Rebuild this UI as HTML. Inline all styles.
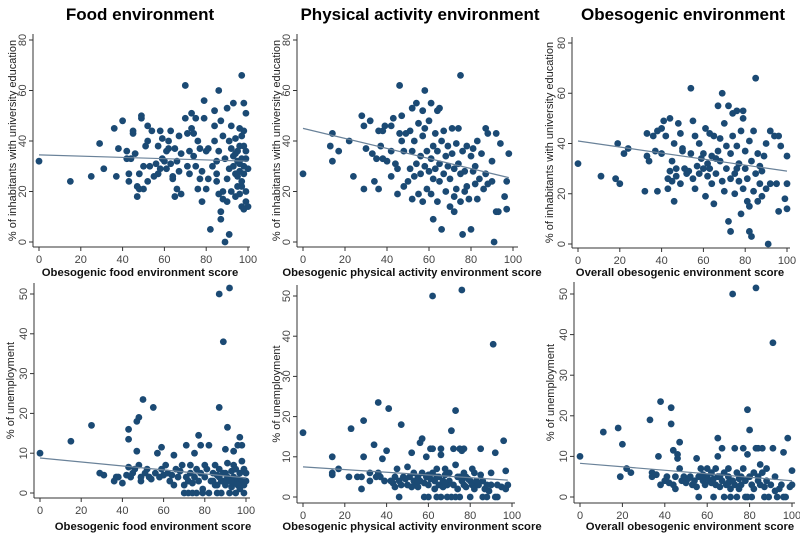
<!DOCTYPE html>
<html><head><meta charset="utf-8"><style>
html,body{margin:0;padding:0;background:#fff;}
svg{display:block;font-family:"Liberation Sans",Arial,sans-serif;}
</style></head><body>
<svg id="chart" width="800" height="534" viewBox="0 0 800 534">
<text x="140" y="20" text-anchor="middle" font-size="17" font-weight="bold">Food environment</text>
<text x="420" y="20" text-anchor="middle" font-size="17" font-weight="bold">Physical activity environment</text>
<text x="683" y="20" text-anchor="middle" font-size="17" font-weight="bold">Obesogenic environment</text>
</svg>
<script>
const foodEdu=[[0,32],[15,24],[25,26],[29,39],[31,29],[36,45],[37,26],[38,37],[40,48],[42,33],[42,36],[43,27],[43,24],[44,33],[45,44],[45,43],[46,35],[47,22],[47,18],[48,21],[48,27],[49,50],[49,49],[50,21],[50,30],[51,38],[52,40],[52,46],[52,24],[53,30],[54,44],[55,26],[56,31],[57,38],[57,27],[58,44],[58,29],[59,41],[59,33],[60,32],[61,36],[61,29],[62,40],[62,37],[63,44],[63,31],[64,25],[64,26],[65,37],[65,18],[66,21],[66,32],[67,42],[67,28],[68,19],[68,35],[70,49],[70,62],[71,43],[71,30],[72,36],[72,27],[73,51],[73,45],[74,34],[74,43],[75,49],[75,30],[76,21],[76,40],[77,37],[77,25],[78,16],[78,28],[79,49],[79,56],[80,36],[80,21],[81,37],[81,25],[82,5],[83,30],[84,46],[84,52],[84,40],[85,27],[85,32],[85,24],[86,60],[86,19],[86,36],[87,48],[87,12],[87,9],[88,42],[88,20],[88,17],[89,0],[89,33],[90,53],[90,25],[90,16],[91,40],[91,3],[91,29],[92,37],[92,20],[92,46],[93,30],[93,55],[93,34],[94,18],[94,27],[94,41],[95,32],[95,22],[95,36],[96,45],[96,28],[96,19],[96,38],[97,66],[97,24],[97,14],[97,33],[97,42],[98,55],[98,13],[98,30],[98,44],[98,27],[99,51],[99,36],[99,20],[99,16],[100,14],[100,29],[99,33],[98,38],[97,22],[96,31],[95,26],[94,35]];
const physEdu=[[0,27],[13,38],[14,43],[14,32],[17,36],[22,40],[24,26],[28,50],[29,46],[29,21],[30,37],[32,48],[33,35],[34,24],[35,33],[36,44],[36,21],[37,38],[38,33],[38,44],[39,46],[40,32],[42,46],[42,26],[42,36],[43,49],[44,31],[45,29],[45,19],[46,62],[46,43],[47,50],[47,40],[48,22],[48,36],[49,43],[50,24],[51,29],[51,44],[52,53],[52,36],[52,17],[53,40],[53,26],[54,55],[54,31],[55,47],[55,19],[56,34],[56,27],[57,42],[57,52],[57,16],[58,60],[58,30],[58,45],[59,21],[59,36],[60,28],[60,48],[61,55],[61,33],[61,19],[62,9],[62,38],[62,25],[63,43],[63,29],[64,52],[64,16],[64,36],[65,53],[65,24],[65,31],[66,5],[66,40],[67,27],[67,44],[68,34],[68,20],[69,38],[69,30],[70,14],[70,25],[71,35],[71,45],[72,12],[72,29],[72,18],[73,39],[73,21],[74,31],[74,45],[75,66],[75,16],[75,27],[76,3],[76,36],[77,20],[77,28],[78,22],[78,38],[79,17],[80,34],[80,5],[81,28],[81,37],[82,23],[82,30],[83,40],[83,17],[84,25],[85,35],[86,21],[87,45],[87,27],[88,43],[88,23],[90,24],[90,32],[91,0],[92,43],[92,12],[93,12],[94,39],[96,18],[97,24],[97,13],[98,35]];
const overallEdu=[[0,32],[11,27],[18,26],[19,40],[20,24],[22,36],[24,38],[32,21],[33,35],[33,44],[34,33],[36,43],[37,37],[38,21],[38,45],[40,46],[40,36],[41,49],[42,43],[43,26],[43,22],[44,29],[44,50],[45,33],[45,25],[46,40],[46,17],[47,27],[47,30],[48,48],[49,44],[49,24],[50,37],[50,38],[51,30],[52,28],[53,29],[54,62],[54,36],[55,49],[55,26],[56,43],[56,22],[57,31],[58,40],[58,28],[59,34],[60,36],[61,19],[61,46],[62,32],[62,27],[63,44],[63,30],[64,35],[64,24],[65,16],[65,43],[66,28],[67,55],[67,37],[68,33],[68,42],[69,60],[69,25],[70,48],[70,21],[71,30],[71,39],[72,9],[72,55],[73,5],[73,36],[73,26],[74,52],[74,43],[75,28],[75,20],[76,53],[76,39],[77,32],[77,25],[78,12],[78,45],[79,53],[79,22],[79,50],[80,30],[80,37],[81,17],[81,26],[82,5],[82,41],[82,15],[83,3],[83,33],[84,45],[84,21],[85,66],[85,28],[86,17],[86,36],[87,31],[87,24],[88,19],[88,29],[89,35],[90,22],[90,40],[91,0],[92,45],[92,24],[94,43],[95,24],[96,13],[96,43],[97,39],[99,18],[100,14],[100,24],[100,35],[76,30],[66,34],[60,30]];
const foodUnemp=[[0,10],[15,13],[25,17],[29,5],[31,4.5],[36,3],[37,4],[38,4],[40,2.5],[42,4.5],[43,16],[43,13.5],[43,6.5],[44,4],[45,5],[46,6],[47,18],[47,10.5],[48,19],[48,7],[49,3],[49,4],[50,23.5],[51,5],[52,6],[53,4],[54,3.5],[55,21.5],[56,5],[57,10],[58,4],[59,11.5],[59,6],[60,4.5],[61,7],[62,5],[63,3],[64,4.5],[65,9.5],[65,2],[66,6],[67,4],[68,5.5],[69,7],[70,2],[70,0],[71,12],[71,4],[72,3],[72,0],[73,5],[73,7],[74,0],[74,2.5],[75,4],[75,10],[76,6],[76,0],[77,14.5],[77,3],[78,12],[78,5],[79,1],[79,0],[80,4],[80,7],[81,6],[82,12],[82,0],[83,3],[84,5],[85,2],[85,7],[86,0],[86,4.5],[87,50],[87,21.5],[87,6],[88,3],[88,0],[89,38],[89,5],[90,11],[90,2],[91,16.5],[91,7.5],[91,4],[92,51.5],[92,0],[92,3],[93,5.5],[93,1.5],[94,4],[94,10.5],[95,2.5],[95,6],[95,0],[96,12],[96,3.5],[97,14],[97,5],[97,1],[98,8],[98,12],[98,3],[99,6],[99,0],[99,2],[100,5],[100,3],[96,2],[94,7],[93,3],[90,5],[89,3],[87,4],[86,2],[84,3]];
const physUnemp=[[0,16],[14,10],[14,6],[14,5.5],[17,7],[22,5],[23,17],[26,5],[28,2],[28,5],[29,19],[29,10],[32,6],[32,4],[34,13],[35,5],[36,23.5],[36,6],[37,5],[38,9.5],[39,4],[40,11.5],[41,22],[42,4],[43,3.5],[44,5],[44,2.5],[45,7],[46,0],[46,4],[47,18],[47,3],[48,5],[49,4.5],[50,7.5],[50,3],[51,5],[52,11],[52,2.5],[53,6],[53,4],[54,3],[55,5],[55,2.5],[56,13.5],[56,4],[57,14.5],[57,6],[58,0],[58,3.5],[59,10],[59,5],[60,0],[60,3],[61,12],[61,4.5],[62,50],[62,12],[62,6],[63,2],[63,4],[64,7],[64,0],[65,3],[65,5],[66,12],[66,10.5],[66,0],[67,4],[67,2.5],[68,7],[68,5.5],[69,3],[69,0],[70,6],[70,4],[71,16.5],[71,0],[72,12],[72,3],[73,21.5],[73,8],[73,0],[74,5],[74,2],[75,12],[75,0],[76,51.5],[76,4],[76,11.5],[77,12],[77,3],[78,5],[78,2.5],[79,4.5],[80,0],[80,4],[81,7],[81,3],[82,6],[82,2],[83,4],[84,3],[85,12],[86,0],[86,4],[87,2],[88,3],[88,0],[89,1.5],[90,6],[90,3],[91,38],[92,11],[92,0],[93,3],[93,0],[95,2.5],[96,14],[97,6.5],[97,2],[98,3],[60,5.5],[64,5],[68,3.5],[55,4],[75,5],[85,5.5],[77,6]];
const overallUnemp=[[0,10],[11,16],[18,17],[19,5],[20,13],[22,7],[24,6],[33,19],[34,6],[34,5],[36,5.5],[37,10],[38,23.5],[38,3],[40,4],[41,5],[42,3.5],[43,22],[43,18],[44,11.5],[44,3],[45,2],[45,5],[46,9.5],[46,10.5],[47,13.5],[47,7],[48,4],[49,5],[50,3.5],[51,4.5],[52,5],[53,3],[54,4],[55,9.5],[55,2.5],[56,0],[56,5],[57,7],[58,4],[59,3],[60,7],[60,5],[61,4],[62,3.5],[62,6],[63,0],[63,4.5],[64,7],[64,3],[65,14.5],[65,10],[65,5],[66,2.5],[67,12],[67,4],[68,0],[68,6],[69,3],[70,7],[70,5],[71,0],[71,2],[72,50],[72,4],[73,12],[73,3],[74,6],[74,0],[75,4.5],[75,2],[76,3],[77,7],[77,12],[78,0],[78,4],[79,21.5],[79,10.5],[79,0],[80,16.5],[80,5],[81,3],[81,0],[82,6],[82,2],[83,51.5],[83,12],[84,12],[84,4],[85,8],[85,3],[86,12],[86,6],[87,0],[87,2.5],[88,7],[88,4],[89,0],[90,3],[91,12],[91,38],[92,5],[92,1.5],[93,0],[94,2],[95,3],[96,11],[96,0],[97,0],[98,14.5],[99,2.5],[100,3],[100,6.5],[76,5],[70,3.5],[66,5],[58,5.5],[84,5]];
const trendFoodEdu=[[0,34.5],[100,32]];
const trendPhysEdu=[[0,45],[98,25.5]];
const trendOverallEdu=[[0,41],[100,29]];
const trendFoodUnemp=[[0,8.8],[100,3.8]];
const trendPhysUnemp=[[0,7.5],[98,4.2]];
const trendOverallUnemp=[[0,8.3],[100,4]];
const xTicks=[0,20,40,60,80,100];
const eduTicks=[0,20,40,60,80];
const unempTicks=[0,10,20,30,40,50];

const NS='http://www.w3.org/2000/svg';
const svg=document.getElementById('chart');
function el(tag,attrs,parent){const e=document.createElementNS(NS,tag);for(const k in attrs)e.setAttribute(k,attrs[k]);(parent||svg).appendChild(e);return e;}

const panels=[
 {id:'food-edu',pts:foodEdu,trend:trendFoodEdu,yt:eduTicks,yMax:80,x0:39,x1:248,y0:242,yTopPx:40,axL:33,axB:247,axTop:34,axR:250,yTitle:'% of inhabitants with university education',yTitleX:12,xTitle:'Obesogenic food environment score',xTitleY:276,xTitleC:140},
 {id:'phys-edu',pts:physEdu,trend:trendPhysEdu,yt:eduTicks,yMax:80,x0:303,x1:513,y0:242,yTopPx:40,axL:297,axB:247,axTop:34,axR:518,yTitle:'% of inhabitants with university education',yTitleX:276,xTitle:'Obesogenic physical activity environment score',xTitleY:276,xTitleC:412},
 {id:'overall-edu',pts:overallEdu,trend:trendOverallEdu,yt:eduTicks,yMax:80,x0:578,x1:787,y0:244,yTopPx:43,axL:572,axB:248,axTop:37,axR:790,yTitle:'% of inhabitants with university education',yTitleX:549,xTitle:'Overall obesogenic environment score',xTitleY:276,xTitleC:680},
 {id:'food-unemp',pts:foodUnemp,trend:trendFoodUnemp,yt:unempTicks,yMax:50,x0:40,x1:246,y0:493,yTopPx:294,axL:34,axB:498,axTop:283,axR:250,yTitle:'% of unemployment',yTitleX:10,xTitle:'Obesogenic food environment score',xTitleY:530,xTitleC:153},
 {id:'phys-unemp',pts:physUnemp,trend:trendPhysUnemp,yt:unempTicks,yMax:50,x0:303,x1:512,y0:497,yTopPx:296,axL:297,axB:503,axTop:285,axR:515,yTitle:'% of unemployment',yTitleX:276,xTitle:'Obesogenic physical activity environment score',xTitleY:530,xTitleC:412},
 {id:'overall-unemp',pts:overallUnemp,trend:trendOverallUnemp,yt:unempTicks,yMax:50,x0:580,x1:792,y0:497,yTopPx:294,axL:574,axB:503,axTop:282,axR:795,yTitle:'% of unemployment',yTitleX:550,xTitle:'Overall obesogenic environment score',xTitleY:530,xTitleC:690}
];

panels.forEach(p=>{
 const g=el('g',{});
 
 
 const sx=v=>p.x0+(p.x1-p.x0)*v/100;
 const sy=v=>p.y0-(p.y0-p.yTopPx)*v/p.yMax;
 const ya=el('line',{x1:p.axL,y1:p.axTop,x2:p.axL,y2:p.axB,stroke:'#333','stroke-width':1},g);
 
 
 const xa=el('line',{x1:p.axL,y1:p.axB,x2:p.axR,y2:p.axB,stroke:'#333','stroke-width':1},g);
 
 
 xTicks.forEach(t=>{
  el('line',{x1:sx(t),y1:p.axB,x2:sx(t),y2:p.axB+4,stroke:'#333'},g);
  const tx=el('text',{x:sx(t),y:p.axB+16,'text-anchor':'middle','font-size':11,fill:'#444'},g);
  tx.textContent=t;
  
  
 });
 p.yt.forEach(t=>{
  el('line',{x1:p.axL-4,y1:sy(t),x2:p.axL,y2:sy(t),stroke:'#333'},g);
  const tx=el('text',{x:0,y:0,'text-anchor':'middle','font-size':11,fill:'#444',transform:`translate(${p.axL-7},${sy(t)}) rotate(-90)`},g);
  tx.textContent=t;
  
  
 });
 const yc=(p.axTop+p.axB)/2;
 const yt=el('text',{x:0,y:0,'text-anchor':'middle','font-size':11,fill:'#222',transform:`translate(${p.yTitleX+4},${yc}) rotate(-90)`},g);
 yt.textContent=p.yTitle;
 
 
 const xt=el('text',{x:p.xTitleC,y:p.xTitleY,'text-anchor':'middle','font-size':11.3,'font-weight':'bold',fill:'#111'},g);
 xt.textContent=p.xTitle;
 
 
 p.pts.forEach(d=>{
  const c=el('circle',{cx:sx(d[0]),cy:sy(d[1]),r:3.4,fill:'#1b4a74'},g);
  
  
 });
 const tl=el('line',{x1:sx(p.trend[0][0]),y1:sy(p.trend[0][1]),x2:sx(p.trend[1][0]),y2:sy(p.trend[1][1]),stroke:'#6a8299','stroke-width':1.2},g);
 
 
});
</script>
</body></html>
